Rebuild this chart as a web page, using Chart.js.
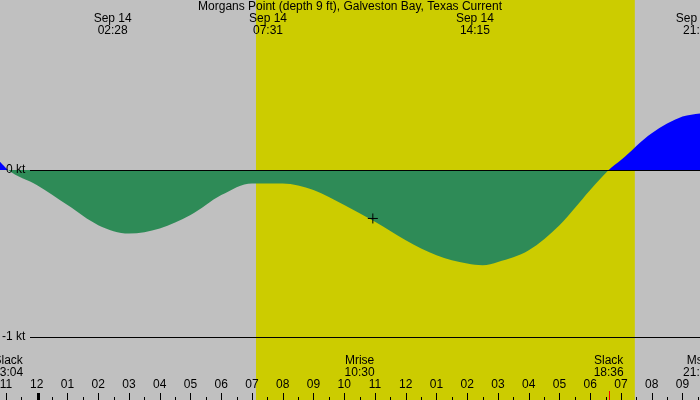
<!DOCTYPE html>
<html><head><meta charset="utf-8">
<script src="https://cdn.jsdelivr.net/npm/chart.js@4"></script>
<style>body{margin:0;background:#c0c0c0}#wrap{width:700px;height:400px}</style>
</head><body><div id="wrap"><canvas id="c"></canvas></div>
<script>
// hours since 23:00 Sep 13
const hours = [-0.2, 0.07, 1, 2, 3, 4, 5, 6, 7, 8, 9, 10, 11, 12, 13, 14, 15, 15.5, 16, 17, 18, 19, 19.6, 20, 21, 22, 22.6];
const current = [0.05, 0, -0.09, -0.21, -0.33, -0.38, -0.35, -0.27, -0.15, -0.08, -0.08, -0.12, -0.21, -0.31, -0.42, -0.51, -0.56, -0.57, -0.55, -0.48, -0.33, -0.12, 0, 0.06, 0.22, 0.32, 0.34];
const hourLabels = ['11','12','01','02','03','04','05','06','07','08','09','10','11','12','01','02','03','04','05','06','07','08','09'];
const topLabels = [[3.47, 'Sep 14', '02:28'], [8.52, 'Sep 14', '07:31'], [15.25, 'Sep 14', '14:15'], [22.4, 'Sep 14', '21:2']];
const bottomLabels = [[0.07, 'Slack', '23:04'], [11.5, 'Mrise', '10:30'], [19.6, 'Slack', '18:36'], [22.4, 'Ms', '21:2']];
const daylight = [8.13, 20.45];
const moonMark = [11.93, -0.29];

const bg = {
  id: 'bg',
  beforeDraw(chart) {
    const {ctx, scales: {x, y}} = chart;
    ctx.save();
    ctx.fillStyle = '#c0c0c0';
    ctx.fillRect(0, 0, 700, 400);
    ctx.fillStyle = '#cccc00';
    ctx.fillRect(x.getPixelForValue(daylight[0]), 0, x.getPixelForValue(daylight[1]) - x.getPixelForValue(daylight[0]), 400);
    ctx.restore();
  },
  afterDatasetsDraw(chart) {
    const {ctx, scales: {x, y}} = chart;
    ctx.save();
    ctx.strokeStyle = '#000';
    ctx.lineWidth = 1;
    [0, -1].forEach(v => {
      const py = Math.round(y.getPixelForValue(v)) + 0.5;
      ctx.beginPath(); ctx.moveTo(30, py); ctx.lineTo(700, py); ctx.stroke();
    });
    ctx.font = '12px "Liberation Sans", Arial, sans-serif';
    ctx.fillStyle = '#000';
    ctx.textBaseline = 'middle';
    ctx.textAlign = 'left';
    ctx.fillText('0 kt', 6, y.getPixelForValue(0));
    ctx.fillText('-1 kt', 2, y.getPixelForValue(-1));
    ctx.textAlign = 'center';
    ctx.fillText('Morgans Point (depth 9 ft), Galveston Bay, Texas Current', 350, 7);
    topLabels.forEach(l => {
      const px = x.getPixelForValue(l[0]);
      ctx.fillText(l[1], px, 19); ctx.fillText(l[2], px, 31);
    });
    bottomLabels.forEach(l => {
      const px = x.getPixelForValue(l[0]);
      ctx.fillText(l[1], px, 361); ctx.fillText(l[2], px, 373);
    });
    hourLabels.forEach((h, i) => {
      const px = x.getPixelForValue(i);
      ctx.fillText(h, px, 385);
      ctx.fillRect(Math.round(px), 393, i === 1 ? 3 : 1, 7);
    });
    for (let i = 0; i < 23; i++) {
      const px = Math.round(x.getPixelForValue(i + 0.5));
      ctx.fillRect(px, 397, 1, 3);
    }
    ctx.fillStyle = '#ff0000';
    ctx.fillRect(Math.round(x.getPixelForValue(19.6)), 391, 1, 9);
    // moonrise marker
    const mx = x.getPixelForValue(moonMark[0]), my = y.getPixelForValue(moonMark[1]);
    ctx.strokeStyle = '#000';
    ctx.beginPath();
    ctx.moveTo(mx - 5, my); ctx.lineTo(mx + 5, my);
    ctx.moveTo(mx, my - 5); ctx.lineTo(mx, my + 5);
    ctx.stroke();
    ctx.restore();
  }
};

new Chart(document.getElementById('c'), {
  type: 'line',
  data: {
    datasets: [{
      data: hours.map((h, i) => ({x: h, y: current[i]})),
      borderWidth: 0,
      pointRadius: 0,
      cubicInterpolationMode: 'monotone',
      fill: {target: 'origin', above: '#0000ff', below: '#2e8b57'}
    }]
  },
  options: {
    responsive: true,
    maintainAspectRatio: false,
    animation: false,
    layout: {padding: 0},
    plugins: {legend: {display: false}, tooltip: {enabled: false}},
    scales: {
      x: {type: 'linear', min: -0.195, max: 22.57, display: false},
      y: {min: -1.377, max: 1.018, display: false}
    }
  },
  plugins: [bg]
});
</script></body></html>
